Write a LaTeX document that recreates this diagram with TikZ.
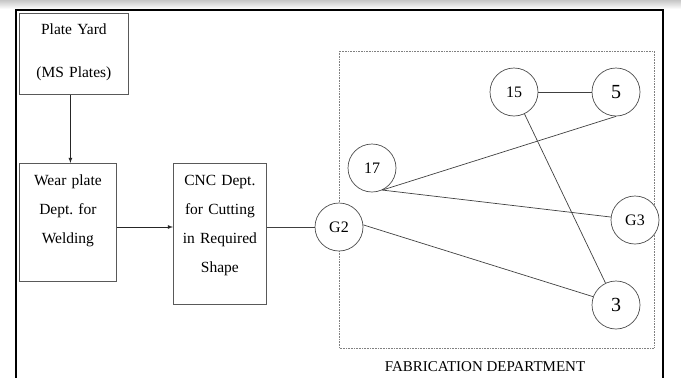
\documentclass[tikz,border=0pt]{standalone}
\usepackage{fontspec}
\setmainfont{Liberation Serif}
\usepackage{tikz}
\frenchspacing

\begin{document}
\begin{tikzpicture}[x=1pt,y=-1pt,
		abt/.style={draw=gray!70!black,line width=0.8pt,anchor=north west,inner sep=0pt,align=center,font=\fontsize{15.5}{29}\selectfont},
		kreis/.style={draw=gray!60!black,line width=0.7pt,circle,fill=white,minimum size=48pt,inner sep=0pt,font=\fontsize{16}{18}\selectfont},
		kante/.style={draw=gray!50!black,line width=0.7pt},
		pfeil/.style={-latex,draw=black!85,line width=0.8pt}]
		% Rahmen mit Schatten oben
		\useasboundingbox (0,0) rectangle (681,378);
		\shade[top color=gray!45,bottom color=white] (0,0) rectangle (681,9);
		\draw[line width=2pt] (16,378) -- (16,9.5) -- (663,9.5) -- (663,378);
		
		% Abteilungen (Kästen)
		\node[abt,text width=109pt,text height=21pt,text depth=60pt,font=\fontsize{15.5}{43}\selectfont] (py) at (19,13) {Plate Yard\\(MS Plates)};
		\node[abt,text width=97pt,text height=22pt,text depth=96pt] (wp) at (19,163) {Wear plate\\Dept. for\\Welding};
		\node[abt,text width=93pt,text height=22pt,text depth=119pt] (cnc) at (173,163) {CNC Dept.\\for Cutting\\in Required\\Shape};
		
		% Fabrication Department (gepunkteter Rahmen)
		\draw[densely dotted,gray,line width=0.6pt] (339,51) rectangle (654,348);
		\node[font=\fontsize{15}{18}\selectfont] (fab) at (485,367) {FABRICATION DEPARTMENT};
		
		% Stationen
		\node[kreis] (g2) at (339,227) {G2};
		\node[kreis] (k17) at (372,168) {17};
		\node[kreis] (k15) at (514,92) {15};
		\node[kreis,font=\fontsize{20}{24}\selectfont] (k5) at (616,92) {5};
		\node[kreis] (g3) at (635,220) {G3};
		\node[kreis,font=\fontsize{20}{24}\selectfont] (k3) at (616,305) {3};
		
		% Materialfluss
		\draw[pfeil] ([xshift=-3.5pt]py.south) -- ([xshift=-3.5pt]py.south |- wp.north);
		\draw[pfeil] (wp.east |- g2) -- (cnc.west |- g2);
		\draw[kante] (cnc.east |- g2) -- (g2);
		\draw[kante] (k15) -- (k5);
		\draw[kante] (k15) -- (k3);
		\draw[kante] (k5.south) -- (k17.-65);
		\draw[kante] (k17.-65) -- (g3.173);
		\draw[kante] (g2.5) -- (k3.160);
		
	\end{tikzpicture}
\end{document}
